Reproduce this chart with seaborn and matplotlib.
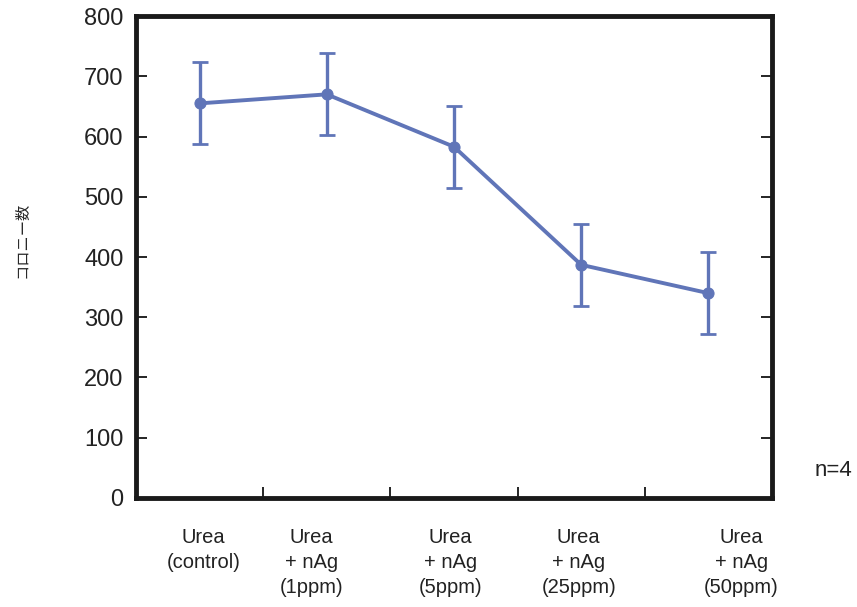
import matplotlib
matplotlib.use("Agg")
import matplotlib.pyplot as plt
import seaborn as sns
import pandas as pd
import numpy as np

categories = ["Urea\n(control)", "Urea\n+ nAg\n(1ppm)", "Urea\n+ nAg\n(5ppm)",
              "Urea\n+ nAg\n(25ppm)", "Urea\n+ nAg\n(50ppm)"]
colonies = [655, 670, 583, 387, 340]
err = [68, 68, 68, 68, 68]
y_ticks = [0, 100, 200, 300, 400, 500, 600, 700, 800]

sns.set_theme(style="white")
plt.rcParams['font.family'] = ['Liberation Sans', 'Noto Sans CJK JP', 'DejaVu Sans']

fig = plt.figure(figsize=(8.57, 6.07), dpi=100)
ax = fig.add_axes([0.1587, 0.1796, 0.7421, 0.794])

df = pd.DataFrame({"x": np.arange(len(categories)), "y": colonies})
color = "#6075b8"
ax.errorbar(df["x"], df["y"], yerr=err, fmt="none", ecolor=color,
            elinewidth=2.4, capsize=6, capthick=2.0, zorder=2)
sns.lineplot(data=df, x="x", y="y", ax=ax, color=color, linewidth=2.8,
             marker="o", markersize=8, markeredgecolor=color, zorder=3)

ax.set_xlim(-0.5, 4.5)
ax.set_ylim(0, 800)
ax.set_yticks(y_ticks)
ax.set_yticklabels([str(v) for v in y_ticks], fontsize=17, color="#222222")
ax.set_xticks([0.5, 1.5, 2.5, 3.5])
ax.set_xticklabels([])
ax.tick_params(axis="both", direction="in", length=8, width=1.2, color="black")
ax.tick_params(axis="y", right=True, left=True, pad=9)
ax.tick_params(axis="x", bottom=True)
ax.set_xlabel("")
ax.set_ylabel("")

for s in ax.spines.values():
    s.set_visible(True)
    s.set_linewidth(3.5)
    s.set_color("#1a1a1a")

label_pos = [0.03, 0.88, 1.97, 2.98, 4.26]
for xp, lab in zip(label_pos, categories):
    ax.text(xp, -50, lab, ha="center", va="top", fontsize=14.5,
            color="#222222", linespacing=1.4,
            family=['Liberation Sans Narrow', 'Liberation Sans', 'DejaVu Sans'])

fig.text(0.026, 0.605, "コロニー数", rotation=90, ha="center", va="center",
         fontsize=11, family=['Noto Sans CJK JP', 'DejaVu Sans'])
fig.text(0.972, 0.225, "n=4", ha="center", va="center", fontsize=16, color="#222222")

fig.savefig("out.png", dpi=100, facecolor="white")
